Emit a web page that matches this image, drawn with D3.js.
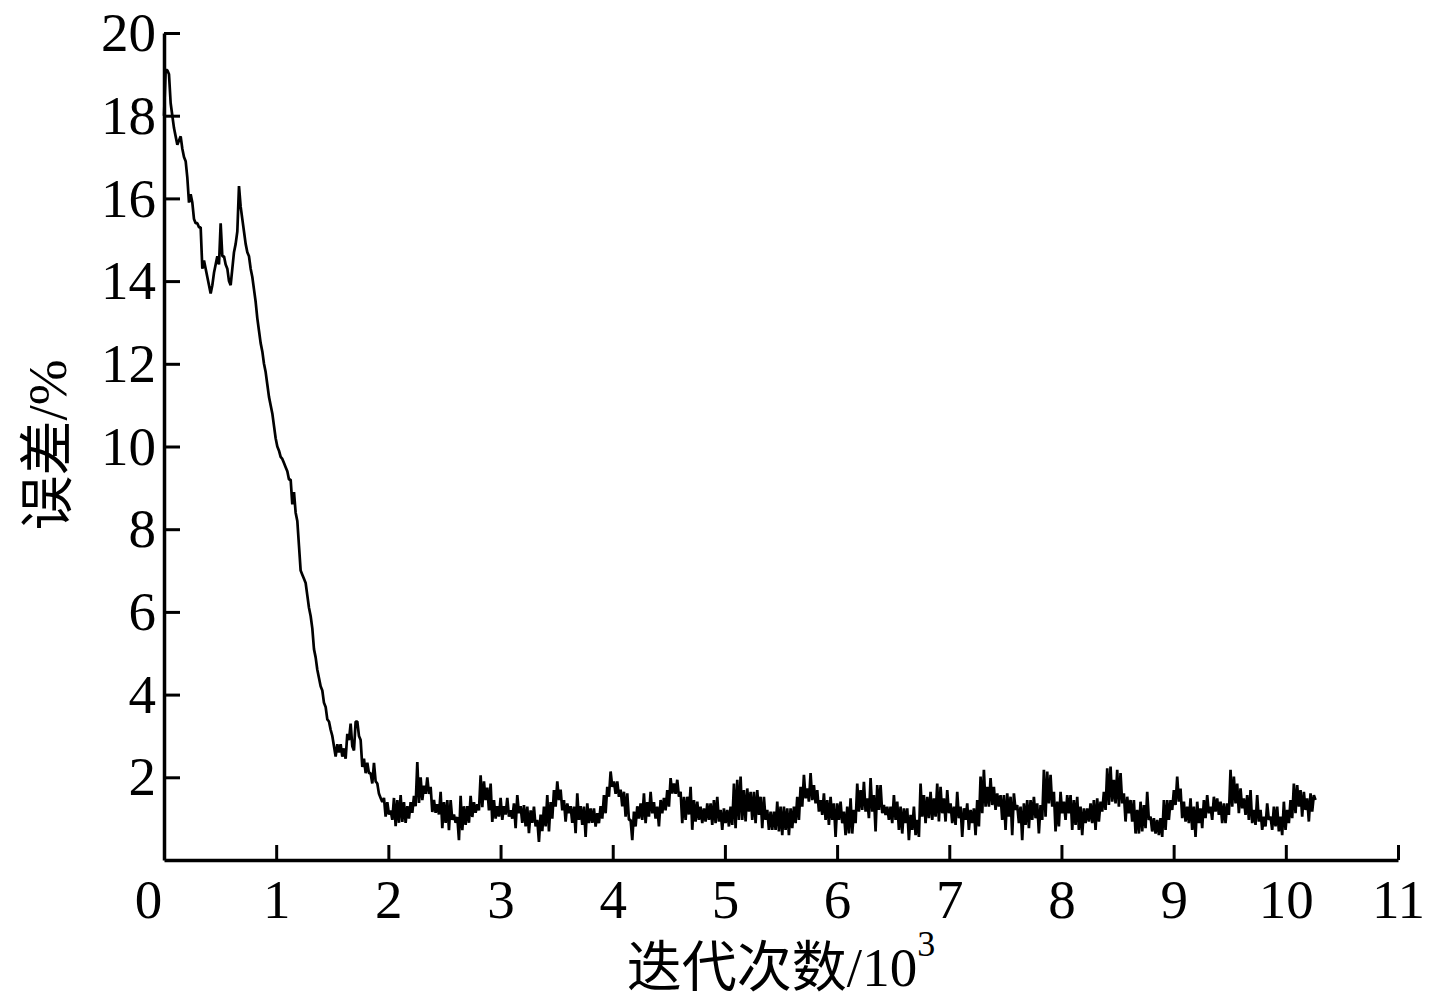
<!DOCTYPE html>
<html>
<head>
<meta charset="utf-8">
<script src="https://cdn.jsdelivr.net/npm/d3@7"></script>
<style>
  body { margin: 0; background: #fff; }
  text { font-family: "Liberation Serif", "Times New Roman", "Noto Sans CJK SC", serif; fill: #000; }
</style>
</head>
<body>
<svg id="chart"></svg>
<script>
// ########## Data ##########
// error (%) sampled every ~14.9 iterations, x in units of 10^3 iterations
sampleStep = 0.014855;

errorPct = [
  18.0,19.1,19.1,19.0,18.3,18.0,17.7,17.5,17.3,17.4,17.5,17.2,17.0,16.9,16.5,15.9,16.1,15.9,15.5,15.4,
  15.4,15.3,15.3,14.3,14.5,14.3,14.1,13.9,13.7,13.9,14.2,14.4,14.6,14.4,15.4,14.6,14.6,14.4,14.3,14.0,
  13.9,14.3,14.7,14.9,15.2,16.3,15.8,15.5,15.2,14.9,14.7,14.6,14.3,14.1,13.8,13.5,13.1,12.8,12.5,12.3,
  12.0,11.8,11.5,11.2,11.0,10.8,10.5,10.2,10.0,9.9,9.75,9.7,9.6,9.5,9.4,9.2,9.2,8.6,8.9,8.4,
  8.2,7.6,7.0,6.9,6.8,6.7,6.4,6.1,5.9,5.6,5.1,4.9,4.6,4.4,4.2,4.1,3.8,3.7,3.4,3.35,
  3.15,3.0,2.75,2.5,2.8,2.6,2.8,2.5,2.7,2.45,3.05,2.9,3.3,2.75,2.65,3.35,3.35,3.0,2.9,2.25,
  2.45,2.1,2.35,2.1,2.1,1.85,2.35,1.9,1.85,1.6,1.5,1.4,1.5,1.05,1.4,1.1,1.2,0.97,1.5,0.82,
  1.45,0.9,1.57,0.92,1.4,0.9,1.3,1.0,1.4,1.14,1.55,1.3,2.37,1.38,2.0,1.45,1.8,1.6,2.0,1.6,
  1.77,1.16,1.45,1.14,1.35,1.1,1.65,0.77,1.4,0.9,1.45,0.72,1.45,0.97,1.1,0.9,1.04,0.48,1.55,0.72,
  1.3,0.85,1.3,0.9,1.55,1.04,1.4,1.14,1.35,1.2,2.05,1.28,1.9,1.45,1.75,1.2,1.85,0.92,1.45,1.0,
  1.3,1.05,1.5,0.97,1.3,1.1,1.5,1.05,1.2,1.0,1.37,0.77,1.57,1.13,1.3,0.9,1.33,0.81,1.29,0.65,
  1.2,0.9,1.29,0.81,0.97,0.44,1.1,0.7,1.29,0.81,1.57,0.69,1.4,1.0,1.69,1.29,1.9,1.45,1.7,1.2,
  1.45,0.93,1.37,1.13,1.3,0.9,1.29,0.65,1.61,0.97,1.3,0.85,1.29,0.56,1.37,0.89,1.25,0.9,1.25,0.81,
  1.13,0.89,1.3,1.0,1.57,1.13,1.77,1.53,2.14,1.77,1.9,1.6,1.9,1.53,1.7,1.3,1.65,1.05,1.61,0.97,
  0.97,0.48,1.17,0.81,1.3,1.0,1.37,0.97,1.61,0.89,1.4,1.05,1.65,1.13,1.4,1.0,1.29,0.81,1.45,1.13,
  1.5,1.2,1.69,1.29,1.98,1.61,1.85,1.6,1.94,1.53,1.65,0.89,1.53,0.97,1.53,1.1,1.77,0.73,1.45,0.93,
  1.41,0.97,1.29,0.89,1.25,0.93,1.37,0.97,1.37,0.85,1.45,0.89,1.53,0.93,1.21,0.73,1.25,0.89,1.21,0.81,
  1.29,0.85,1.85,0.77,1.94,0.97,2.02,0.97,1.69,0.93,1.73,1.17,1.65,0.97,1.65,0.89,1.69,1.09,1.53,0.77,
  1.53,0.97,1.21,0.73,1.17,0.73,1.17,0.73,1.41,0.69,1.29,0.60,1.29,0.73,1.25,0.60,1.25,0.77,1.29,0.89,
  1.53,0.97,1.77,1.29,2.06,1.49,1.73,1.41,2.10,1.45,1.81,1.37,1.69,1.17,1.45,1.09,1.61,0.97,1.45,0.85,
  1.53,0.97,1.37,0.56,1.37,0.97,1.41,0.89,1.17,0.60,1.29,0.64,1.49,0.64,1.21,0.89,1.85,1.17,1.69,1.21,
  1.89,1.17,1.49,1.01,1.98,1.17,1.57,0.69,1.81,1.21,1.81,1.13,1.33,1.09,1.29,0.97,1.29,0.89,1.57,0.97,
  1.41,0.73,1.29,0.64,1.25,0.89,1.25,0.48,1.09,0.73,1.29,0.60,0.97,0.56,1.85,1.05,1.57,0.89,1.53,1.01,
  1.65,0.97,1.49,1.05,1.85,0.93,1.77,1.13,1.49,0.93,1.69,1.13,1.37,0.89,1.29,0.85,1.65,1.01,1.29,0.56,
  1.25,0.97,1.37,0.73,1.21,0.89,1.25,0.60,1.45,0.81,2.02,1.13,2.18,1.29,1.77,1.29,1.98,1.33,1.77,1.21,
  1.61,1.29,1.57,0.97,1.57,0.73,1.61,1.05,1.53,0.60,1.61,1.21,1.33,0.89,1.29,0.48,1.37,0.85,1.45,0.77,
  1.45,0.97,1.53,1.01,1.37,0.64,1.33,0.97,2.18,1.05,2.14,1.37,2.06,1.29,1.65,0.69,1.41,0.81,1.65,1.13,
  1.41,0.97,1.57,1.13,1.57,0.73,1.45,0.85,1.53,0.73,1.29,0.60,1.25,0.89,1.25,0.93,1.37,0.89,1.45,0.73,
  1.49,0.93,1.41,1.17,1.65,1.21,2.22,1.33,2.26,1.41,1.94,1.37,2.18,1.29,2.10,1.37,1.61,0.93,1.53,1.13,
  1.45,0.93,1.45,0.64,1.21,0.64,1.41,0.69,1.33,0.77,1.65,0.97,1.05,0.69,1.01,0.64,0.97,0.60,1.01,0.56,
  1.45,0.73,1.45,0.97,1.45,1.21,1.69,1.33,2.02,1.41,1.73,1.01,1.41,0.93,1.29,0.89,1.49,0.73,1.29,0.56,
  1.41,0.89,1.25,0.77,1.45,1.01,1.57,1.13,1.29,0.97,1.53,1.17,1.49,1.09,1.41,0.89,1.37,0.89,1.37,1.09,
  2.18,1.29,2.02,1.37,1.85,1.13,1.73,1.25,1.49,1.09,1.57,0.97,1.69,0.89,1.21,0.85,1.57,0.93,1.21,0.73,
  1.05,0.81,1.37,0.97,1.05,0.73,1.29,0.81,1.29,0.69,1.05,0.60,1.41,0.73,1.21,0.89,1.45,1.01,1.85,1.13,
  1.81,1.29,1.69,1.05,1.65,1.21,1.49,0.93,1.61,1.17,1.57,1.45
];

xTicks = [0, 1, 2, 3, 4, 5, 6, 7, 8, 9, 10, 11];
yTicks = [2, 4, 6, 8, 10, 12, 14, 16, 18, 20];

xTitle = "迭代次数/10";
xTitleSup = "3";
yTitle = "误差/%";

// ########## SVG ##########
w = 1434;
h = 1005;
fontSize = 55;

svg = d3.select("#chart")
    .attr("width", w)
    .attr("height", h);

x = d3.scaleLinear().domain([0, 11]).range([164, 1398]);
y = d3.scaleLinear().domain([0, 20]).range([860, 33]);

// ########## Line ##########
line = d3.line()
    .x(function (d, i) { return x(i * sampleStep); })
    .y(function (d) { return y(d); });

svg.append("path")
    .datum(errorPct)
    .attr("d", line)
    .attr("fill", "none")
    .attr("stroke", "#000")
    .attr("stroke-width", 2.7)
    .attr("stroke-linejoin", "bevel");

// ########## Axes ##########
xAxis = svg.append("g")
    .attr("transform", "translate(0," + y(0) + ")")
    .call(d3.axisBottom(x).tickValues(xTicks).tickSizeInner(-15).tickSizeOuter(0).tickFormat(d3.format("d")));

xAxis.select(".domain").attr("stroke-width", 3.5);
xAxis.selectAll(".tick line").attr("stroke-width", 3);
xAxis.selectAll(".tick text")
    .attr("font-size", fontSize)
    .attr("font-family", "Liberation Serif")
    .attr("y", 58)
    .attr("dy", 0)
    .attr("dx", function (d) { return d === 0 ? -16 : 0; });

yAxis = svg.append("g")
    .attr("transform", "translate(" + x(0) + ",0)")
    .call(d3.axisLeft(y).tickValues(yTicks).tickSizeInner(-16).tickSizeOuter(0).tickFormat(d3.format("d")));

yAxis.select(".domain").attr("stroke-width", 3.5);
yAxis.selectAll(".tick line").attr("stroke-width", 3);
yAxis.selectAll(".tick text")
    .attr("font-size", fontSize)
    .attr("font-family", "Liberation Serif")
    .attr("x", -8);

// ########## Titles ##########
xt = svg.append("text")
    .attr("x", 781)
    .attr("y", 986)
    .attr("text-anchor", "middle")
    .attr("font-size", fontSize);
xt.append("tspan").text(xTitle);
xt.append("tspan")
    .attr("font-size", 36)
    .attr("dy", -30)
    .text(xTitleSup);

svg.append("text")
    .attr("transform", "translate(66,445) rotate(-90)")
    .attr("text-anchor", "middle")
    .attr("font-size", fontSize)
    .text(yTitle);
</script>
</body>
</html>
